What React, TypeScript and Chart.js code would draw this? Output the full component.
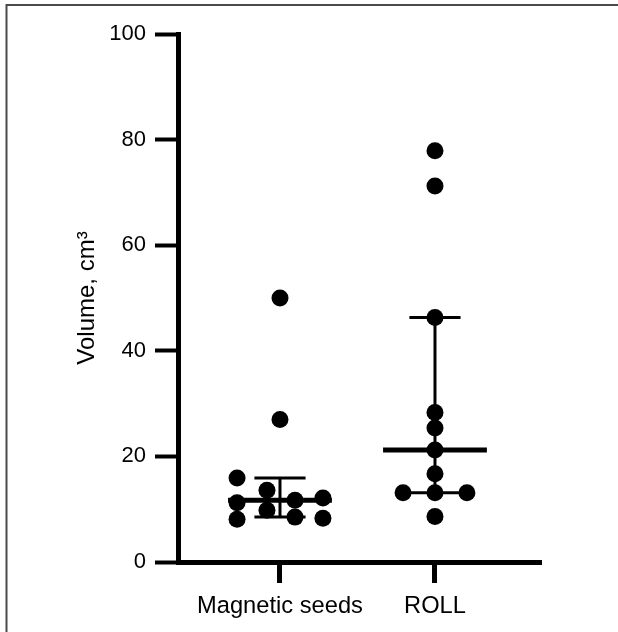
import React, { useEffect, useRef } from "react";
import { Chart, registerables } from "chart.js";

Chart.register(...registerables);

// ---- Data ----
const groups = ["Magnetic seeds", "ROLL"];
const groupPositions = [1, 2];
const magneticValues = [50, 27, 15.9, 13.6, 12.1, 11.7, 11.2, 9.8, 8.5, 8.3, 8.1];
const magneticJitter = [0, 0, -0.277, -0.084, 0.277, 0.097, -0.277, -0.084, 0.097, 0.277, -0.277];
const rollValues = [77.9, 71.2, 46.3, 28.3, 25.4, 21.2, 16.7, 13.1, 13.1, 13.1, 8.6];
const rollJitter = [0, 0, 0, 0, 0, 0, 0, -0.206, 0, 0.206, 0];
const medians = [11.7, 21.2];
const lowerQuartiles = [8.5, 13.1];
const upperQuartiles = [15.9, 46.3];
const yMin = 0;
const yMax = 100;
const yStep = 20;
const yTitle = "Volume, cm³";

const FONT = "'Liberation Sans', Arial, Helvetica, sans-serif";

const framePlugin = {
  id: "frame",
  beforeDraw(chart: any) {
    const { ctx, width, height } = chart;
    ctx.save();
    ctx.fillStyle = "#ffffff";
    ctx.fillRect(0, 0, width, height);
    ctx.strokeStyle = "#4a4a4a";
    ctx.lineWidth = 2;
    ctx.beginPath();
    ctx.moveTo(6.5, height);
    ctx.lineTo(6.5, 5);
    ctx.lineTo(width, 5);
    ctx.stroke();
    ctx.restore();
  },
};

const errorBarPlugin = {
  id: "errorBars",
  afterDatasetsDraw(chart: any) {
    const { ctx } = chart;
    const x = chart.scales.x;
    const y = chart.scales.y;
    ctx.save();
    ctx.strokeStyle = "#000";
    ctx.lineCap = "butt";
    groupPositions.forEach((g, i) => {
      const cx = x.getPixelForValue(g);
      const yMed = y.getPixelForValue(medians[i]);
      const yLo = y.getPixelForValue(lowerQuartiles[i]);
      const yHi = y.getPixelForValue(upperQuartiles[i]);
      // vertical whisker
      ctx.lineWidth = 3;
      ctx.beginPath();
      ctx.moveTo(cx, yLo);
      ctx.lineTo(cx, yHi);
      ctx.stroke();
      // caps
      const cL = x.getPixelForValue(g - 0.165);
      const cR = x.getPixelForValue(g + 0.165);
      ctx.beginPath();
      ctx.moveTo(cL, yLo);
      ctx.lineTo(cR, yLo);
      ctx.moveTo(cL, yHi);
      ctx.lineTo(cR, yHi);
      ctx.stroke();
      // median
      const mL = x.getPixelForValue(g - 0.335);
      const mR = x.getPixelForValue(g + 0.335);
      ctx.lineWidth = 5;
      ctx.beginPath();
      ctx.moveTo(mL, yMed);
      ctx.lineTo(mR, yMed);
      ctx.stroke();
    });
    ctx.restore();
  },
};

export default function App() {
  const canvasRef = useRef<HTMLCanvasElement | null>(null);

  useEffect(() => {
    document.body.style.margin = "0";
    const canvas = canvasRef.current;
    if (!canvas) return;
    const magneticPoints = magneticValues.map((v, i) => ({ x: groupPositions[0] + magneticJitter[i], y: v }));
    const rollPoints = rollValues.map((v, i) => ({ x: groupPositions[1] + rollJitter[i], y: v }));

    const chart = new Chart(canvas, {
      type: "scatter",
      data: {
        datasets: [
          {
            label: groups[0],
            data: magneticPoints,
            backgroundColor: "#000",
            borderWidth: 0,
            pointRadius: 8.5,
            pointHoverRadius: 8.5,
            clip: false as any,
          },
          {
            label: groups[1],
            data: rollPoints,
            backgroundColor: "#000",
            borderWidth: 0,
            pointRadius: 8.5,
            pointHoverRadius: 8.5,
            clip: false as any,
          },
        ],
      },
      options: {
        animation: false,
        responsive: false,
        devicePixelRatio: 1,
        layout: { padding: { top: 34, right: 77, left: 0, bottom: 0 } },
        plugins: {
          legend: { display: false },
          tooltip: { enabled: false },
        },
        scales: {
          x: {
            type: "linear",
            min: 0.342,
            max: 2.684,
            afterBuildTicks: (scale: any) => {
              scale.ticks = groupPositions.map((v) => ({ value: v }));
            },
            afterFit: (scale: any) => {
              scale.height = 70;
            },
            ticks: {
              autoSkip: false,
              maxRotation: 0,
              padding: 9,
              color: "#000",
              font: { family: FONT, size: 23.7 },
              callback: (v: any) => {
                const idx = groupPositions.indexOf(Number(v));
                return idx >= 0 ? groups[idx] : "";
              },
            },
            grid: {
              display: true,
              drawOnChartArea: false,
              drawTicks: true,
              tickLength: 21,
              tickWidth: 5,
              tickColor: "#000",
            },
            border: { display: true, width: 5, color: "#000" },
          },
          y: {
            type: "linear",
            min: yMin,
            max: yMax,
            afterFit: (scale: any) => {
              scale.width = 178;
            },
            ticks: {
              stepSize: yStep,
              padding: 9,
              color: "#000",
              font: { family: FONT, size: 22 },
            },
            grid: {
              display: true,
              drawOnChartArea: false,
              drawTicks: true,
              tickLength: 23,
              tickWidth: 4,
              tickColor: "#000",
            },
            border: { display: true, width: 5, color: "#000" },
            title: {
              display: true,
              text: yTitle,
              color: "#000",
              font: { family: FONT, size: 24 },
              padding: { top: 73, bottom: 0 },
            },
          },
        },
      },
      plugins: [framePlugin, errorBarPlugin],
    });
    return () => chart.destroy();
  }, []);

  return (
    <div style={{ width: 618, height: 632 }}>
      <canvas ref={canvasRef} width={618} height={632} style={{ display: "block" }} />
    </div>
  );
}
